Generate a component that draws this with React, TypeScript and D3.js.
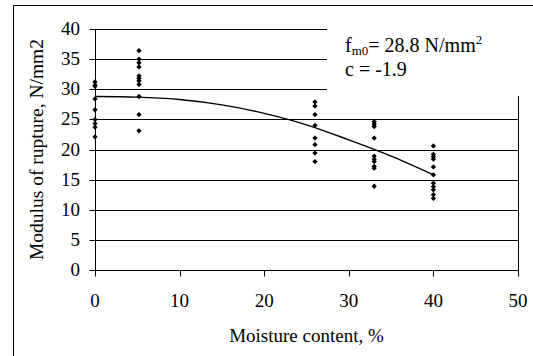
import React from "react";
import * as d3 from "d3";

// moisture content (%) of each test group and the modulus of rupture readings
const moistureLevels = [0, 5.2, 26, 33, 40];
const mor0 = [31.2, 30.7, 30.5, 28.4, 26.6, 25.0, 24.3, 23.7, 22.1];
const mor5 = [36.4, 35.0, 34.4, 33.7, 32.2, 31.8, 31.4, 30.8, 28.8, 25.8, 23.1];
const mor26 = [27.9, 27.2, 25.8, 24.0, 21.9, 20.8, 19.4, 18.0];
const mor33 = [24.6, 24.2, 23.8, 21.9, 18.9, 18.4, 18.0, 17.2, 16.9, 13.9];
const mor40 = [20.6, 19.2, 18.8, 18.4, 17.1, 15.8, 14.4, 13.8, 13.3, 12.5, 11.9];

// fitted curve
const fitMoisture = [0, 5, 10, 15, 20, 25, 30, 35, 40];
const fitMor = [28.8, 28.7, 28.3, 27.4, 26.0, 24.1, 21.6, 18.9, 15.8];

const xTicks = [0, 10, 20, 30, 40, 50];
const yTicks = [0, 5, 10, 15, 20, 25, 30, 35, 40];

const width = 533;
const height = 356;
const serif = { fontFamily: "Liberation Serif", fill: "#000" };

const x = d3.scaleLinear().domain([0, 50]).range([95, 518]);
const y = d3.scaleLinear().domain([0, 40]).range([270, 29]);
const py = (v: number) => Math.round(y(v)) + 0.5;
const px = (v: number) => Math.round(x(v)) + 0.5;

const App = () => {
  const curve = d3
    .line<number>()
    .x((d, i) => x(fitMoisture[i]))
    .y((d) => y(d))
    .curve(d3.curveMonotoneX)(fitMor);

  const groups = [mor0, mor5, mor26, mor33, mor40];
  const points = groups.flatMap((vals, i) =>
    vals.map((v) => ({ u: moistureLevels[i], v }))
  );
  const marker = d3.symbol().type(d3.symbolSquare).size(14)() as string;

  return (
    <svg
      width={width}
      height={height}
      style={{ position: "absolute", left: 0, top: 0 }}
    >
      {/* outer frame, right and bottom edges run off the picture */}
      <rect
        x={13.5}
        y={5.5}
        width={width + 20}
        height={height + 20}
        fill="#fff"
        stroke="#000"
      />

      {/* gridlines */}
      {yTicks
        .filter((d) => d > 0)
        .map((d) => (
          <line
            key={"g" + d}
            x1={x(0)}
            x2={x(50)}
            y1={py(d)}
            y2={py(d)}
            stroke="#000"
          />
        ))}

      {/* plot area right border */}
      <line x1={px(50)} x2={px(50)} y1={y(40)} y2={py(0)} stroke="#000" />

      {/* y axis */}
      <line x1={px(0)} x2={px(0)} y1={y(40)} y2={py(0)} stroke="#000" />
      {yTicks.map((d) => (
        <g key={"y" + d}>
          <line x1={px(0) - 6} x2={px(0)} y1={py(d)} y2={py(d)} stroke="#000" />
          <text
            x={x(0) - 15}
            y={y(d) + 6}
            textAnchor="end"
            style={{ ...serif, fontSize: "19px" }}
          >
            {d}
          </text>
        </g>
      ))}

      {/* x axis */}
      <line x1={x(0)} x2={x(50)} y1={py(0)} y2={py(0)} stroke="#000" />
      {xTicks.map((d) => (
        <g key={"x" + d}>
          <line x1={px(d)} x2={px(d)} y1={py(0)} y2={py(0) + 6} stroke="#000" />
          <text
            x={x(d)}
            y={307}
            textAnchor="middle"
            style={{ ...serif, fontSize: "19px" }}
          >
            {d}
          </text>
        </g>
      ))}

      {/* fitted curve */}
      <path d={curve || ""} fill="none" stroke="#000" strokeWidth={1.4} />

      {/* measurements */}
      {points.map((d, i) => (
        <path
          key={"p" + i}
          d={marker}
          transform={`translate(${x(d.u)},${y(d.v)}) rotate(45)`}
          fill="#000"
        />
      ))}

      {/* fit parameter box */}
      <rect x={327} y={18} width={210} height={78} fill="#fff" />
      <text x={345} y={52} style={{ ...serif, fontSize: "20px" }}>
        <tspan>f</tspan>
        <tspan dy={3} style={{ fontSize: "13px" }}>
          m0
        </tspan>
        <tspan dy={-3}>= 28.8 N/mm</tspan>
        <tspan dy={-8} style={{ fontSize: "13px" }}>
          2
        </tspan>
      </text>
      <text x={345} y={76} style={{ ...serif, fontSize: "20px" }}>
        c = -1.9
      </text>

      {/* axis titles */}
      <text
        x={(x(0) + x(50)) / 2}
        y={342}
        textAnchor="middle"
        style={{ ...serif, fontSize: "19px" }}
      >
        Moisture content, %
      </text>
      <text
        transform={`translate(43,${(y(0) + y(40)) / 2}) rotate(-90)`}
        textAnchor="middle"
        style={{ ...serif, fontSize: "19.5px" }}
      >
        Modulus of rupture, N/mm2
      </text>
    </svg>
  );
};

export default App;
